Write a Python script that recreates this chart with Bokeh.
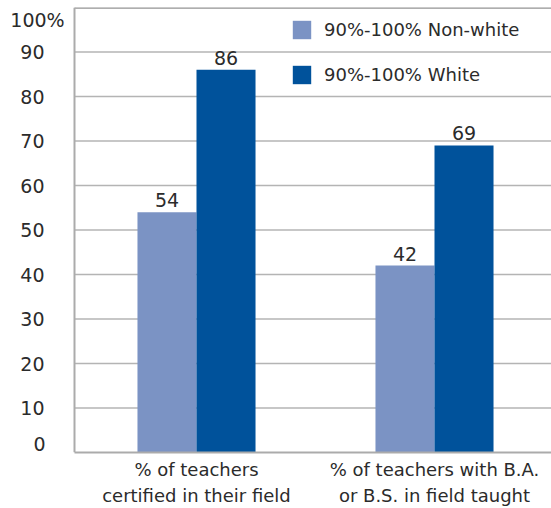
from bokeh.plotting import figure
from bokeh.models import (ColumnDataSource, FixedTicker, Label, LabelSet,
                          Legend, LegendItem, Range1d)
from bokeh.core.properties import value
from bokeh.transform import dodge
from bokeh.embed import file_html
from bokeh.resources import INLINE

# ---- data ----
categories = ["% of teachers\ncertified in their field",
              "% of teachers with B.A.\nor B.S. in field taught"]
nonwhite = [54, 42]
white = [86, 69]
series_names = ["90%-100% Non-white", "90%-100% White"]
y_ticks = [10, 20, 30, 40, 50, 60, 70, 80, 90]
y_top_label = "100%"
y_bottom_label = "0"

FONT = "DejaVu Sans"
TXT = "#2b2b2b"
LIGHT = "#7b93c4"
DARK = "#00529b"
GRID = "#b4b4b4"
AXIS = "#ababab"

# layout (data units along x): plot area starts at X_LEFT
X_START, X_LEFT, X_END = 0.1765, 0.4874, 2.4916
Y_MIN, Y_MAX = 0, 100

xs = [i + 1 for i in range(len(categories))]
src = ColumnDataSource(dict(
    x=xs, nonwhite=nonwhite, white=white,
    nw_txt=[str(v) for v in nonwhite], w_txt=[str(v) for v in white],
))

p = figure(width=551, height=508, output_backend="svg", toolbar_location=None,
           x_range=Range1d(X_START, X_END), y_range=Range1d(Y_MIN, Y_MAX),
           min_border_left=0, min_border_right=0, min_border_top=7,
           min_border_bottom=54)
p.outline_line_color = None
p.background_fill_color = "white"
p.border_fill_color = "white"
p.xgrid.visible = False
p.ygrid.visible = False

# horizontal grid lines, limited to the plot area
gsrc = ColumnDataSource(dict(y=y_ticks))
p.segment(x0=X_LEFT, x1=X_END, y0="y", y1="y", source=gsrc,
          line_color=GRID, line_width=1.5, level="underlay")
p.segment(x0=X_LEFT, x1=X_END, y0=Y_MAX, y1=Y_MAX,
          line_color="#939393", line_width=2.5, level="underlay")

bw = 0.248
r1 = p.vbar(x=dodge("x", -bw / 2, range=p.x_range), top="nonwhite", width=bw,
            bottom=0, source=src, fill_color=LIGHT, line_color=None)
r2 = p.vbar(x=dodge("x", bw / 2, range=p.x_range), top="white", width=bw,
            bottom=0, source=src, fill_color=DARK, line_color=None)

for col, top, off in (("nw_txt", "nonwhite", -bw / 2), ("w_txt", "white", bw / 2)):
    p.add_layout(LabelSet(x=dodge("x", off, range=p.x_range), y=top, text=col,
                          source=src, text_align="center", text_baseline="bottom",
                          y_offset=5, text_font=value(FONT), text_font_size="19px",
                          text_color=TXT))

# y axis: line drawn at the plot-area edge, tick labels as text next to it
p.yaxis.fixed_location = X_LEFT
p.yaxis.ticker = FixedTicker(ticks=[])
p.yaxis.axis_line_color = AXIS
p.yaxis.axis_line_width = 2
p.yaxis.major_tick_line_color = None
p.yaxis.minor_tick_line_color = None
p.yaxis.major_tick_out = 0
p.yaxis.major_tick_in = 0
p.yaxis.major_label_standoff = 0

ysrc = ColumnDataSource(dict(y=y_ticks, t=[str(v) for v in y_ticks]))
p.add_layout(LabelSet(x=X_LEFT, y="y", text="t", source=ysrc, x_offset=-30,
                      text_align="right", text_baseline="middle",
                      text_font=value(FONT), text_font_size="19px",
                      text_color=TXT))
p.add_layout(Label(x=X_LEFT, y=Y_MAX, text=y_top_label, x_offset=-37,
                   y_offset=-1, text_align="center", text_baseline="top",
                   text_font=FONT, text_font_size="19px", text_color=TXT))
p.add_layout(Label(x=X_LEFT, y=Y_MIN, text=y_bottom_label, x_offset=-35,
                   y_offset=2, text_align="center", text_baseline="bottom",
                   text_font=FONT, text_font_size="19px", text_color=TXT))

# x axis
p.xaxis.bounds = (X_LEFT, X_END)
p.xaxis.ticker = FixedTicker(ticks=xs)
p.xaxis.major_label_overrides = {x: c for x, c in zip(xs, categories)}
p.xaxis.axis_line_color = AXIS
p.xaxis.axis_line_width = 2
p.xaxis.major_tick_line_color = None
p.xaxis.minor_tick_line_color = None
p.xaxis.major_tick_out = 0
p.xaxis.major_tick_in = 0
p.xaxis.major_label_standoff = 6
p.xaxis.major_label_text_font = FONT
p.xaxis.major_label_text_font_size = "18px"
p.xaxis.major_label_text_line_height = 1.25
p.xaxis.major_label_text_color = TXT

legend = Legend(items=[LegendItem(label=series_names[0], renderers=[r1]),
                       LegendItem(label=series_names[1], renderers=[r2])],
                location=(290, 366), glyph_width=23, glyph_height=23,
                label_standoff=11, spacing=22, padding=0, margin=0,
                border_line_alpha=0, background_fill_alpha=0,
                label_text_font=FONT, label_text_font_size="18px",
                label_text_color=TXT, label_height=23)
p.add_layout(legend)

open("out.html", "w").write(file_html(p, INLINE))
